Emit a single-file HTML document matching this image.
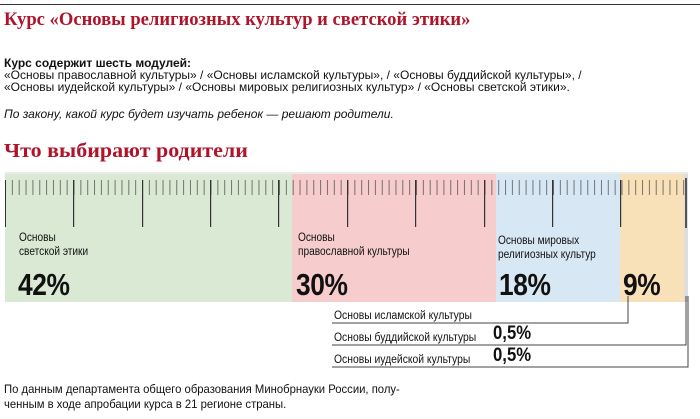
<!DOCTYPE html>
<html><head><meta charset="utf-8"><style>
body{margin:0;width:700px;height:419px;background:#fff;position:relative;overflow:hidden;font-family:"Liberation Sans",sans-serif;color:#111}
.a{position:absolute;white-space:nowrap;transform-origin:0 0}
.t{font-family:"Liberation Serif",serif;font-weight:bold;color:#b0142a}
.b{font-family:"Liberation Sans",sans-serif;font-size:12px;line-height:13px}
.l{font-size:11.5px;line-height:14px;transform:scaleX(0.88)}
.p{font-weight:bold;font-size:31px;transform:scaleX(0.85);letter-spacing:-0.5px}
.s{font-weight:bold;font-size:19px;transform:scaleX(0.88)}
</style></head><body>
<div class="a" style="left:0;top:4px;width:700px;height:1px;background:#333"></div>
<div class="a t" style="left:4px;top:9px;font-size:18.6px">Курс «Основы религиозных культур и светской этики»</div>
<div class="a b" style="left:4px;top:57px;font-weight:bold">Курс содержит шесть модулей:</div>
<div class="a b" style="left:4px;top:69px">«Основы православной культуры» / «Основы исламской культуры», / «Основы буддийской культуры», /</div>
<div class="a b" style="left:4px;top:81px">«Основы иудейской культуры» / «Основы мировых религиозных культур» / «Основы светской этики».</div>
<div class="a b" style="left:4px;top:108px;font-style:italic">По закону, какой курс будет изучать ребенок — решают родители.</div>
<div class="a t" style="left:4px;top:140px;font-size:20px;transform:scaleX(1.1)">Что выбирают родители</div>
<svg class="a" style="left:0;top:0" width="700" height="419">
<defs><pattern id="m" x="5" y="0" width="6.85" height="419" patternUnits="userSpaceOnUse"><rect x="0" y="180" width="1" height="15" fill="#444"/></pattern></defs>
<rect x="5" y="172" width="287" height="130" fill="#d9e9d3"/>
<rect x="292" y="172" width="204" height="130" fill="#f6cccd"/>
<rect x="496" y="172" width="124" height="130" fill="#d8e7f4"/>
<rect x="620" y="172" width="64" height="130" fill="#f8e0b9"/>
<rect x="684" y="172" width="4" height="130" fill="#ddd"/>
<rect x="5" y="172" width="683" height="2" fill="#e8ece6"/>
<rect x="5" y="178" width="680" height="20" fill="url(#m)" opacity="0.7"/>
<g fill="#333">
<rect x="5" y="180" width="1" height="47"/><rect x="73" y="180" width="1.2" height="47"/><rect x="142" y="180" width="1.2" height="47"/><rect x="210" y="180" width="1.2" height="47"/><rect x="278" y="180" width="1.2" height="47"/><rect x="347" y="180" width="1.2" height="47"/><rect x="415" y="180" width="1.2" height="47"/><rect x="484" y="180" width="1.2" height="47"/><rect x="552" y="180" width="1.2" height="47"/><rect x="620" y="180" width="1.2" height="47"/>
<rect x="685" y="178" width="2" height="50" fill="#555"/>
</g>
<g stroke="#444" fill="none" stroke-width="1">
<polyline points="628,296 628,323 332,323"/>
<polyline points="686,296 686,345 332,345"/>
<polyline points="688,296 688,367 332,367"/>
</g>
</svg>
<div class="a l" style="left:19px;top:231px">Основы<br>светской этики</div>
<div class="a l" style="left:298px;top:231px">Основы<br>православной культуры</div>
<div class="a l" style="left:498px;top:234px">Основы мировых<br>религиозных культур</div>
<div class="a p" style="left:18px;top:267px">42%</div>
<div class="a p" style="left:296px;top:267px">30%</div>
<div class="a p" style="left:499px;top:267px">18%</div>
<div class="a p" style="left:623px;top:267px">9%</div>
<div class="a l" style="left:334px;top:309px;transform:scaleX(0.9)">Основы исламской культуры</div>
<div class="a l" style="left:334px;top:331px;transform:scaleX(0.9)">Основы буддийской культуры</div>
<div class="a l" style="left:334px;top:353px;transform:scaleX(0.9)">Основы иудейской культуры</div>
<div class="a s" style="left:493px;top:323px">0,5%</div>
<div class="a s" style="left:493px;top:345px">0,5%</div>
<div class="a" style="left:4px;top:382px;font-size:12px;line-height:15px;transform:scaleX(0.94)">По данным департамента общего образования Минобрнауки России, полу-<br>ченным в ходе апробации курса в 21 регионе страны.</div>
</body></html>
